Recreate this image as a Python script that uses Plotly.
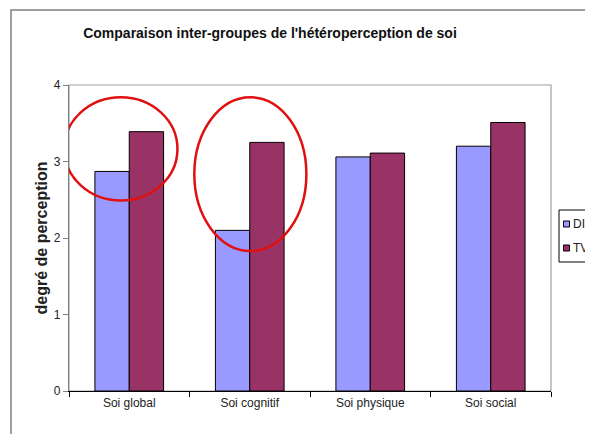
import plotly.graph_objects as go

categories = ["Soi global", "Soi cognitif", "Soi physique", "Soi social"]
di_values = [2.87, 2.10, 3.06, 3.20]
tv_values = [3.39, 3.25, 3.11, 3.51]
series_names = ["DI", "TV"]
series_colors = ["#9999ff", "#993366"]
y_ticks = [0, 1, 2, 3, 4]

# page has an 8px body margin; figure coordinates below are relative to the figure
W, H = 585, 426
L, R, T, B = 61, 42, 77, 43
pw = W - L - R
ph = H - T - B

fig = go.Figure()
for name, vals, col in zip(series_names, [di_values, tv_values], series_colors):
    fig.add_trace(go.Bar(x=categories, y=vals, name=name, showlegend=False,
                         marker=dict(color=col, line=dict(color="#000000", width=1))))

def fx(px):
    return (px - L) / pw

def fy(py):
    return (H - B - py) / ph

shapes = []
# outer chart border
shapes.append(dict(type="rect", xref="paper", yref="paper",
                   x0=fx(3), x1=fx(640), y0=fy(480), y1=fy(2),
                   line=dict(color="#808080", width=1.5), layer="below"))
# plot area border
shapes.append(dict(type="rect", xref="x domain", yref="y domain", x0=0, x1=1, y0=0, y1=1,
                   line=dict(color="#a0a0a0", width=1.2), layer="below"))
# red ellipses (in data coords)
shapes.append(dict(type="circle", xref="x", yref="y", x0=-0.54, x1=0.40, y0=2.49, y1=3.84,
                   line=dict(color="#e01010", width=2.5)))
shapes.append(dict(type="circle", xref="x", yref="y", x0=0.54, x1=1.47, y0=1.83, y1=3.84,
                   line=dict(color="#e01010", width=2.5)))

# legend (drawn manually so it can sit at the clipped right edge like the original)
lx = 551
shapes.append(dict(type="rect", xref="paper", yref="paper",
                   x0=fx(lx), x1=fx(640), y0=fy(254), y1=fy(202),
                   line=dict(color="#000000", width=1), fillcolor="white"))
annotations = []
for i, (name, col) in enumerate(zip(series_names, series_colors)):
    cy = 216 + 24 * i
    shapes.append(dict(type="rect", xref="paper", yref="paper",
                       x0=fx(lx + 4.5), x1=fx(lx + 10.5), y0=fy(cy + 3), y1=fy(cy - 3),
                       line=dict(color="#000000", width=1), fillcolor=col))
    annotations.append(dict(text=name, xref="paper", yref="paper", x=fx(lx + 11.5), y=fy(cy),
                            xanchor="left", yanchor="middle", showarrow=False,
                            font=dict(size=12, color="#222222")))

fig.update_layout(
    width=W, height=H,
    margin=dict(l=L, r=R, t=T, b=B, autoexpand=False),
    paper_bgcolor="white", plot_bgcolor="white",
    font=dict(family="Liberation Sans, Arial, sans-serif", size=12, color="#222222"),
    title=dict(text="<b>Comparaison inter-groupes de l'hétéroperception de soi</b>",
               x=262 / W, xanchor="center", y=1 - 25 / H, yanchor="middle",
               font=dict(size=14, color="#111111")),
    barmode="group", bargap=0.43, bargroupgap=0,
    showlegend=False,
    shapes=shapes,
    annotations=annotations,
)
fig.update_xaxes(type="category", range=[-0.5, 3.5], showline=True, linecolor="#000000", linewidth=1.2,
                 ticks="outside", ticklen=5, tickcolor="#000000", tickson="boundaries",
                 showgrid=False, zeroline=False, tickfont=dict(size=12))
fig.update_yaxes(range=[0, 4], tickvals=y_ticks, showline=True, linecolor="#808080", linewidth=1.2,
                 ticks="outside", ticklen=5, tickcolor="#808080", showgrid=False, zeroline=False,
                 title=dict(text="<b>degré de perception</b>", font=dict(size=16), standoff=2),
                 tickfont=dict(size=12))

fig.write_html("out.html", config={"displayModeBar": False},
               post_script="document.documentElement.style.overflow='hidden';"
                           "document.body.style.overflow='hidden';")
